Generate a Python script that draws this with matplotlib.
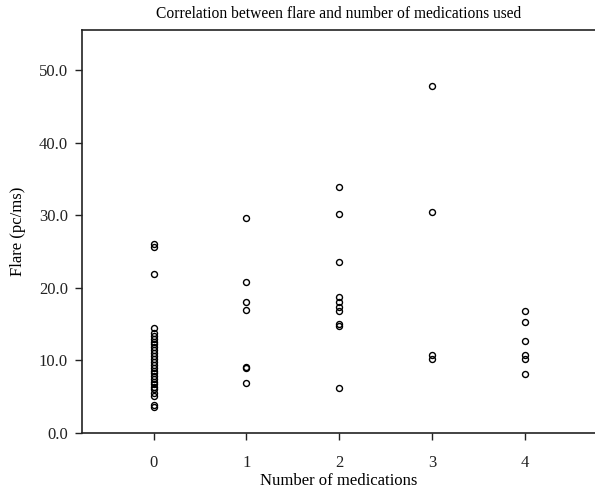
import matplotlib

matplotlib.use("Agg")
import matplotlib.pyplot as plt

plt.rcParams["font.family"] = ["Liberation Serif", "DejaVu Serif"]

# flare values (pc/ms) grouped by number of medications
meds_0 = [26.0, 25.6, 21.9, 14.4, 13.8, 13.3, 12.9, 12.6, 12.2, 11.8, 11.4, 11.0,
          10.6, 10.2, 9.8, 9.4, 9.0, 8.6, 8.2, 7.8, 7.4, 7.0, 6.7, 6.4, 6.0, 5.5,
          5.1, 3.8, 3.6]
meds_1 = [29.6, 20.8, 18.1, 17.0, 9.1, 8.9, 6.9]
meds_2 = [33.9, 30.1, 23.5, 18.7, 18.1, 17.4, 16.8, 15.0, 14.7, 6.2]
meds_3 = [47.8, 30.5, 10.8, 10.2]
meds_4 = [16.8, 15.3, 12.7, 10.7, 10.2, 8.1]
groups = [meds_0, meds_1, meds_2, meds_3, meds_4]
x_ticks = [0, 1, 2, 3, 4]
y_ticks = [0, 10, 20, 30, 40, 50]

fig = plt.figure(figsize=(5.95, 4.91), dpi=100)
ax = fig.add_axes([0.1378, 0.1181, 0.8622, 0.8208])

for count, values in zip(x_ticks, groups):
    ax.plot([count] * len(values), values, linestyle="none", marker="o",
            markersize=4.3, markerfacecolor="none", markeredgecolor="black",
            markeredgewidth=1.0)

ax.set_xlim(-0.77, 4.75)
ax.set_ylim(0, 55.5)
ax.set_xticks(x_ticks)
ax.set_yticks(y_ticks)
ax.set_yticklabels([f"{v:.1f}" for v in y_ticks])
ax.tick_params(direction="out", length=5, width=1, labelsize=12, colors="#222222")
ax.tick_params(axis="x", pad=11)
ax.tick_params(axis="y", pad=5)
ax.spines["right"].set_visible(False)
for side in ("left", "bottom", "top"):
    ax.spines[side].set_linewidth(1.2)
    ax.spines[side].set_color("#222222")

ax.set_title("Correlation between flare and number of medications used",
             fontsize=11.2, pad=9)
ax.set_xlabel("Number of medications", fontsize=12, labelpad=1)
ax.set_ylabel("Flare (pc/ms)", fontsize=12, labelpad=9)

fig.savefig("out.png", dpi=100)
